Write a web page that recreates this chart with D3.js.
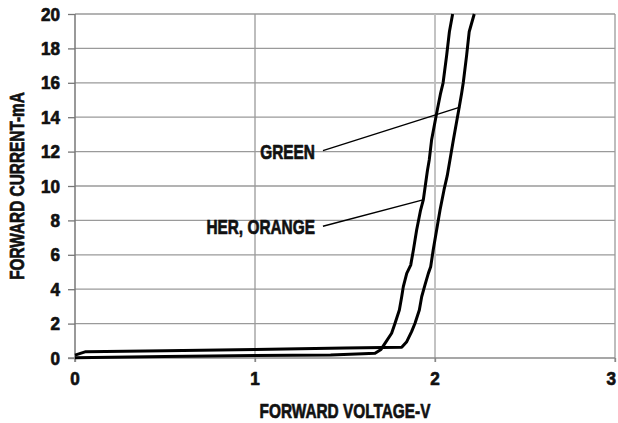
<!DOCTYPE html>
<html>
<head>
<meta charset="utf-8">
<script src="https://cdn.jsdelivr.net/npm/d3@7/dist/d3.min.js"></script>
<style>
  html, body { margin: 0; padding: 0; background: #fff; }
  svg { display: block; }
  text { font-family: "Liberation Sans", Arial, sans-serif; font-weight: bold; fill: #111; stroke: #111; stroke-width: 0.7px; stroke-linejoin: round; }
</style>
</head>
<body>
<svg id="chart" width="618" height="423"></svg>
<script>
// ---- data ----
const xTicks = [0, 1, 2, 3];
const yTicks = [0, 2, 4, 6, 8, 10, 12, 14, 16, 18, 20];
const xTitle = "FORWARD VOLTAGE-V";
const yTitle = "FORWARD CURRENT-mA";

const herV = [0, 0.5, 1.0, 1.42, 1.6, 1.667, 1.70, 1.722, 1.759, 1.778, 1.802, 1.815, 1.824, 1.843, 1.865, 1.88, 1.898, 1.92, 1.935, 1.948, 1.958, 1.968, 1.981, 2.009, 2.031, 2.045, 2.065, 2.08, 2.098];
const herI = [0.02, 0.08, 0.14, 0.17, 0.24, 0.28, 0.5, 0.85, 1.44, 2.02, 2.79, 3.56, 4.15, 4.92, 5.4, 6.28, 7.44, 8.6, 9.19, 10.16, 10.9, 11.51, 12.67, 14.23, 15.39, 16.0, 17.62, 18.97, 20.0];

const greenV = [0, 0.06, 0.5, 1.0, 1.5, 1.815, 1.843, 1.87, 1.889, 1.913, 1.926, 1.944, 1.963, 1.976, 1.99, 2.009, 2.028, 2.05, 2.068, 2.083, 2.102, 2.135, 2.148, 2.157, 2.176, 2.19, 2.218];
const greenI = [0.17, 0.37, 0.42, 0.5, 0.58, 0.62, 0.95, 1.53, 2.02, 2.79, 3.56, 4.24, 4.92, 5.3, 6.28, 7.44, 8.6, 9.77, 10.6, 11.51, 12.67, 14.61, 15.39, 16.0, 17.62, 18.97, 20.0];

// annotation labels: text, label anchor (V, I), pointer target (V, I)
const labelNames = ["GREEN", "HER, ORANGE"];
const labelAt = [[1.333, 12.0], [1.333, 7.6]];
const labelTarget = [[2.139, 14.59], [1.933, 9.19]];

// ---- layout ----
const svg = d3.select("#chart");
const x = d3.scaleLinear().domain([0, 3]).range([75, 615]);
const y = d3.scaleLinear().domain([0, 20]).range([358, 14]);

// condensed bold text helper
function ctext(px, py, str, size, sx, anchor, rot) {
  return svg.append("text")
    .attr("transform", `translate(${px},${py})` + (rot ? ` rotate(${rot})` : "") + ` scale(${sx},1)`)
    .attr("text-anchor", anchor)
    .style("font-size", size + "px")
    .text(str);
}

// horizontal grid
svg.append("g").selectAll("line").data(yTicks.filter(d => d > 0)).join("line")
  .attr("x1", x(0)).attr("x2", x(3))
  .attr("y1", d => y(d)).attr("y2", d => y(d))
  .attr("stroke", "#9a9a9a").attr("stroke-width", 1.3);

// vertical grid
svg.append("g").selectAll("line").data(xTicks.filter(d => d > 0)).join("line")
  .attr("x1", d => x(d)).attr("x2", d => x(d))
  .attr("y1", y(20)).attr("y2", y(0) + 4)
  .attr("stroke", d => d === 2 ? "#bdbdbd" : "#9a9a9a").attr("stroke-width", d => d === 2 ? 1.8 : 1.3);

// y axis (lines from d3 axis, labels drawn condensed)
const yAxis = d3.axisLeft(y).tickValues(yTicks).tickSize(7).tickFormat("");
const gy = svg.append("g").attr("transform", `translate(${x(0)},0)`).call(yAxis);
gy.select(".domain").attr("stroke", "#777").attr("stroke-width", 1.5).attr("d", `M0,${y(20)}V${y(0) + 4}`);
gy.selectAll(".tick line").attr("stroke", "#777").attr("stroke-width", 1.3);
yTicks.forEach(t => ctext(x(0) - 15, y(t) + 6.5, String(t), 18, 0.95, "end"));

// x axis
const xAxis = d3.axisBottom(x).tickValues(xTicks).tickSize(4).tickFormat("");
const gx = svg.append("g").attr("transform", `translate(0,${y(0)})`).call(xAxis);
gx.select(".domain").attr("stroke", "#8a8a8a").attr("stroke-width", 1.3).attr("d", `M${x(0) - 7},0H${x(3)}`);
gx.selectAll(".tick line").attr("stroke", "#888").attr("stroke-width", 1.3);
xTicks.forEach((t, i) => {
  const last = i === xTicks.length - 1;
  ctext(last ? 616 : x(t), 385, String(t), 18, 0.95, last ? "end" : "middle");
});

// titles
ctext((x(0) + x(3)) / 2, 418, xTitle, 20, 0.77, "middle");
ctext(24, (y(0) + y(20)) / 2, yTitle, 20, 0.77, "middle", -90);

// curves
const line = d3.line().x(d => x(d[0])).y(d => y(d[1]));
const herData = herV.map((v, i) => [v, herI[i]]);
const greenData = greenV.map((v, i) => [v, greenI[i]]);
[herData, greenData].forEach(data => {
  svg.append("path").datum(data).attr("d", line)
    .attr("fill", "none").attr("stroke", "#000").attr("stroke-width", 3)
    .attr("stroke-linejoin", "round");
});

// annotations
labelNames.forEach((name, i) => {
  const [lv, li] = labelAt[i];
  const [tv, ti] = labelTarget[i];
  svg.append("line").attr("x1", x(lv) + 8).attr("y1", y(li) - 1)
    .attr("x2", x(tv)).attr("y2", y(ti))
    .attr("stroke", "#000").attr("stroke-width", 1.4);
  ctext(x(lv), y(li) + 7, name, 20, 0.77, "end");
});
</script>
</body>
</html>
